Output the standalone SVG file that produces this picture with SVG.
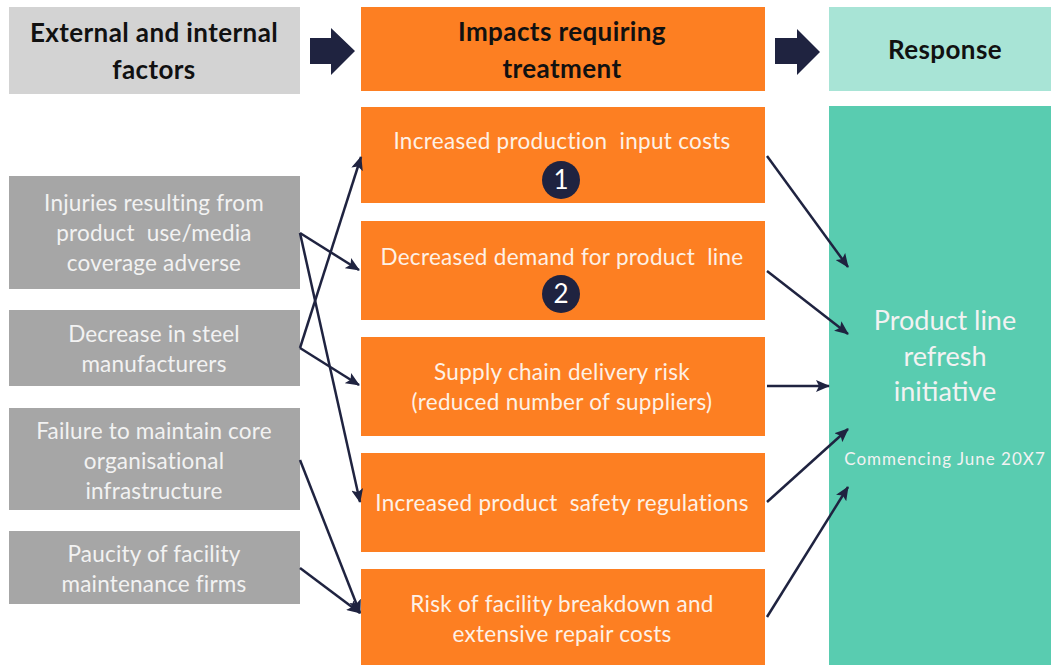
<svg xmlns="http://www.w3.org/2000/svg" width="1051" height="665" viewBox="0 0 1051 665">
<defs>
<style>
text{white-space:pre}
.hd{font-family:Lato,"Open Sans","Liberation Sans",sans-serif;font-weight:bold;font-size:26px;letter-spacing:0.4px;fill:#111;text-anchor:middle}
.lt{font-family:Lato,"Open Sans","Liberation Sans",sans-serif;font-size:22.5px;letter-spacing:0.2px;fill:#f2f2f2;text-anchor:middle}
.ot{font-family:Lato,"Open Sans","Liberation Sans",sans-serif;font-size:22.5px;letter-spacing:0.3px;fill:#fdf1e6;text-anchor:middle}
.gt{font-family:Lato,"Open Sans","Liberation Sans",sans-serif;font-size:27px;fill:#f2f2f2;text-anchor:middle}
.gs{font-family:Lato,"Open Sans","Liberation Sans",sans-serif;font-size:17px;letter-spacing:1px;fill:#f2f2f2;text-anchor:middle}
.num{font-family:Lato,"Open Sans","Liberation Sans",sans-serif;font-size:26px;fill:#fff;text-anchor:middle}
.gray{fill:#a6a6a6}
.org{fill:#fd7f22}
.badge{fill:#1f2340}
.con line{stroke:#1f2340;stroke-width:2.5;marker-end:url(#ah)}
.blk{fill:#1f2340}
</style>
<marker id="ah" markerUnits="userSpaceOnUse" markerWidth="14" markerHeight="12" refX="13" refY="6" orient="auto">
<path d="M0,0 L14,6 L0,12 L3,6 Z" fill="#1f2340"/>
</marker>
</defs>
<rect width="1051" height="665" fill="#fff"/>

<g id="hdr-factors">
<rect x="9" y="7" width="291" height="87" fill="#d3d3d3"/>
<text class="hd" x="154" y="42">External and internal</text>
<text class="hd" x="154" y="79">factors</text>
</g>
<g id="hdr-impacts">
<rect x="361" y="7" width="404" height="84" fill="#fd7f22"/>
<text class="hd" x="562" y="41">Impacts requiring</text>
<text class="hd" x="562" y="78">treatment</text>
</g>
<g id="hdr-response">
<rect x="829" y="7" width="222" height="84" fill="#a8e4d6"/>
<text class="hd" x="945" y="59">Response</text>
</g>
<g id="bigarrow1">
<path class="blk" d="M310,38 H331 V28 L355,51 L331,75 V64 H310 Z"/>
</g>
<g id="bigarrow2">
<path class="blk" d="M775,38 H797 V29 L820,52 L797,75 V64 H775 Z"/>
</g>

<g id="f1"><rect class="gray" x="9" y="176" width="291" height="113"/>
<text class="lt" x="154" y="211">Injuries resulting from</text>
<text class="lt" x="154" y="241">product  use/media</text>
<text class="lt" x="154" y="271">coverage adverse</text></g>
<g id="f2"><rect class="gray" x="9" y="310" width="291" height="76"/>
<text class="lt" x="154" y="342">Decrease in steel</text>
<text class="lt" x="154" y="372">manufacturers</text></g>
<g id="f3"><rect class="gray" x="9" y="408" width="291" height="102"/>
<text class="lt" x="154" y="439">Failure to maintain core</text>
<text class="lt" x="154" y="469">organisational</text>
<text class="lt" x="154" y="499">infrastructure</text></g>
<g id="f4"><rect class="gray" x="9" y="531" width="291" height="73"/>
<text class="lt" x="154" y="562">Paucity of facility</text>
<text class="lt" x="154" y="592">maintenance firms</text></g>

<g id="i1"><rect class="org" x="361" y="107" width="404" height="96"/>
<text class="ot" x="562" y="149">Increased production  input costs</text>
<circle class="badge" cx="561" cy="180" r="19"/>
<text class="num" x="561" y="189">1</text></g>
<g id="i2"><rect class="org" x="361" y="221" width="404" height="99"/>
<text class="ot" x="562" y="265">Decreased demand for product  line</text>
<circle class="badge" cx="561" cy="294" r="19"/>
<text class="num" x="561" y="303">2</text></g>
<g id="i3"><rect class="org" x="361" y="337" width="404" height="99"/>
<text class="ot" x="562" y="380">Supply chain delivery risk</text>
<text class="ot" x="562" y="410">(reduced number of suppliers)</text></g>
<g id="i4"><rect class="org" x="361" y="453" width="404" height="99"/>
<text class="ot" x="562" y="511">Increased product  safety regulations</text></g>
<g id="i5"><rect class="org" x="361" y="569" width="404" height="96"/>
<text class="ot" x="562" y="612">Risk of facility breakdown and</text>
<text class="ot" x="562" y="642">extensive repair costs</text></g>

<g id="response"><rect x="829" y="106" width="222" height="559" fill="#59ccb0"/>
<text class="gt" x="945" y="330">Product line</text>
<text class="gt" x="945" y="366">refresh</text>
<text class="gt" x="945" y="401">initiative</text>
<text class="gs" x="945" y="465">Commencing June 20X7</text></g>

<g id="connectors" class="con">
<line x1="300" y1="233" x2="359" y2="270"/>
<line x1="300" y1="233" x2="360" y2="502"/>
<line x1="300" y1="348" x2="361" y2="157"/>
<line x1="300" y1="348" x2="359" y2="385"/>
<line x1="300" y1="460" x2="360" y2="613"/>
<line x1="300" y1="568" x2="360" y2="613"/>
<line x1="767" y1="156" x2="848" y2="267"/>
<line x1="767" y1="271" x2="848" y2="334"/>
<line x1="767" y1="386" x2="829" y2="386"/>
<line x1="767" y1="502" x2="848" y2="429"/>
<line x1="767" y1="617" x2="848" y2="487"/>
</g>
</svg>
